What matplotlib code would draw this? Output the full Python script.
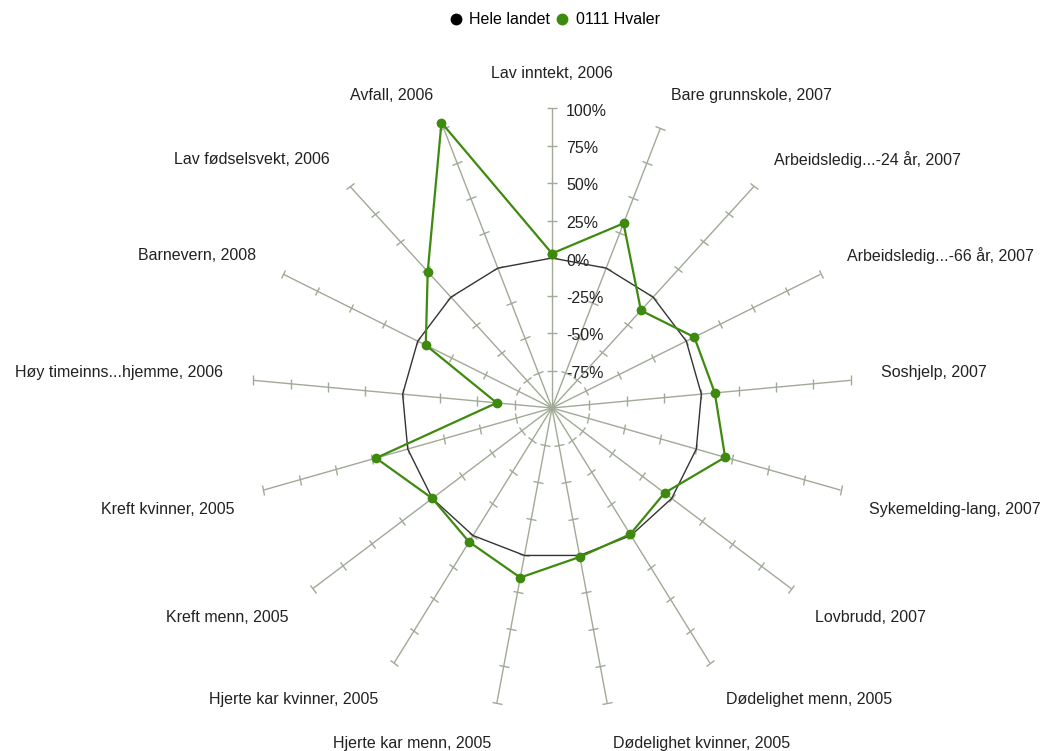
import numpy as np
import matplotlib
matplotlib.use('Agg')
import matplotlib.pyplot as plt
from matplotlib.markers import MarkerStyle
from matplotlib.transforms import Affine2D
from matplotlib.lines import Line2D

plt.rcParams['font.family'] = ['Liberation Sans', 'DejaVu Sans']

# Kategorier (med klokka fra toppen)
categories = ['Lav inntekt, 2006', 'Bare grunnskole, 2007', 'Arbeidsledig...-24 år, 2007',
              'Arbeidsledig...-66 år, 2007', 'Soshjelp, 2007', 'Sykemelding-lang, 2007',
              'Lovbrudd, 2007', 'Dødelighet menn, 2005', 'Dødelighet kvinner, 2005',
              'Hjerte kar menn, 2005', 'Hjerte kar kvinner, 2005', 'Kreft menn, 2005',
              'Kreft kvinner, 2005', 'Høy timeinns...hjemme, 2006', 'Barnevern, 2008',
              'Lav fødselsvekt, 2006', 'Avfall, 2006']
hele_landet = [0, 0, 0, 0, 0, 0, 0, 0, 0, 0, 0, 0, 0, 0, 0, 0, 0]
hvaler = [3, 32, -12, 6, 9, 20, -6, -1, 1, 15, 5, 0, 22, -63, -6, 23, 104]
radial_ticks = [-75, -50, -25, 0, 25, 50, 75, 100]
radial_labels = ['-75%', '-50%', '-25%', '0%', '25%', '50%', '75%', '100%']

green = '#3e8a0e'
spoke_col = '#a0aa96'
text_col = '#222222'

fig = plt.figure(figsize=(10.48, 7.51), dpi=100)
ax = fig.add_axes([252 / 1048, 43 / 751, 600 / 1048, 600 / 751], projection='polar')
ax.set_theta_zero_location('N')
ax.set_theta_direction(-1)
ax.set_ylim(-100, 100)
ax.grid(False)
ax.set_xticks([])
ax.set_yticks([])
ax.spines['polar'].set_visible(False)

n = len(categories)
theta = np.linspace(0, 2 * np.pi, n, endpoint=False)

# Eiker med tverrstreker
for t in theta:
    ax.plot([t, t], [-100, 100], color=spoke_col, lw=1, zorder=1)
    m = MarkerStyle('_', transform=Affine2D().rotate_deg(-np.degrees(t)))
    ax.plot([t] * len(radial_ticks), radial_ticks, ls='none', marker=m, ms=7,
            mew=1, color=spoke_col, zorder=1, clip_on=False)

# Aksetekst på den loddrette eika
for v, lab in zip(radial_ticks, radial_labels):
    ax.annotate(lab, xy=(0, v), xytext=(14, -3), textcoords='offset pixels',
                ha='left', va='center', fontsize=11.5, color=text_col)

# Kategoritekster
for t, lab in zip(theta, categories):
    s = np.sin(t)
    ha = 'left' if s > 0.05 else ('right' if s < -0.05 else 'center')
    dy = 5 if np.cos(t) > 0 else -11
    ax.annotate(lab, xy=(t, 120), xytext=(0, dy), textcoords='offset pixels',
                ha=ha, va='center', fontsize=11.5, color=text_col, annotation_clip=False)

tt = np.append(theta, theta[0])
ax.plot(tt, hele_landet + hele_landet[:1], color='#333333', lw=1, zorder=3, clip_on=False)
ax.plot(tt, hvaler + hvaler[:1], color=green, lw=1.6, marker='o', ms=6,
        zorder=4, clip_on=False)

handles = [Line2D([], [], ls='none', marker='o', color='black', ms=7.5),
           Line2D([], [], ls='none', marker='o', color=green, ms=7.5)]
fig.legend(handles, ['Hele landet', '0111 Hvaler'], loc='center',
           bbox_to_anchor=(553 / 1048, 1 - 20 / 751), ncol=2, frameon=False,
           handletextpad=0.25, columnspacing=0.15, fontsize=11.5, handlelength=1.2)

fig.savefig('out.png', dpi=100)
